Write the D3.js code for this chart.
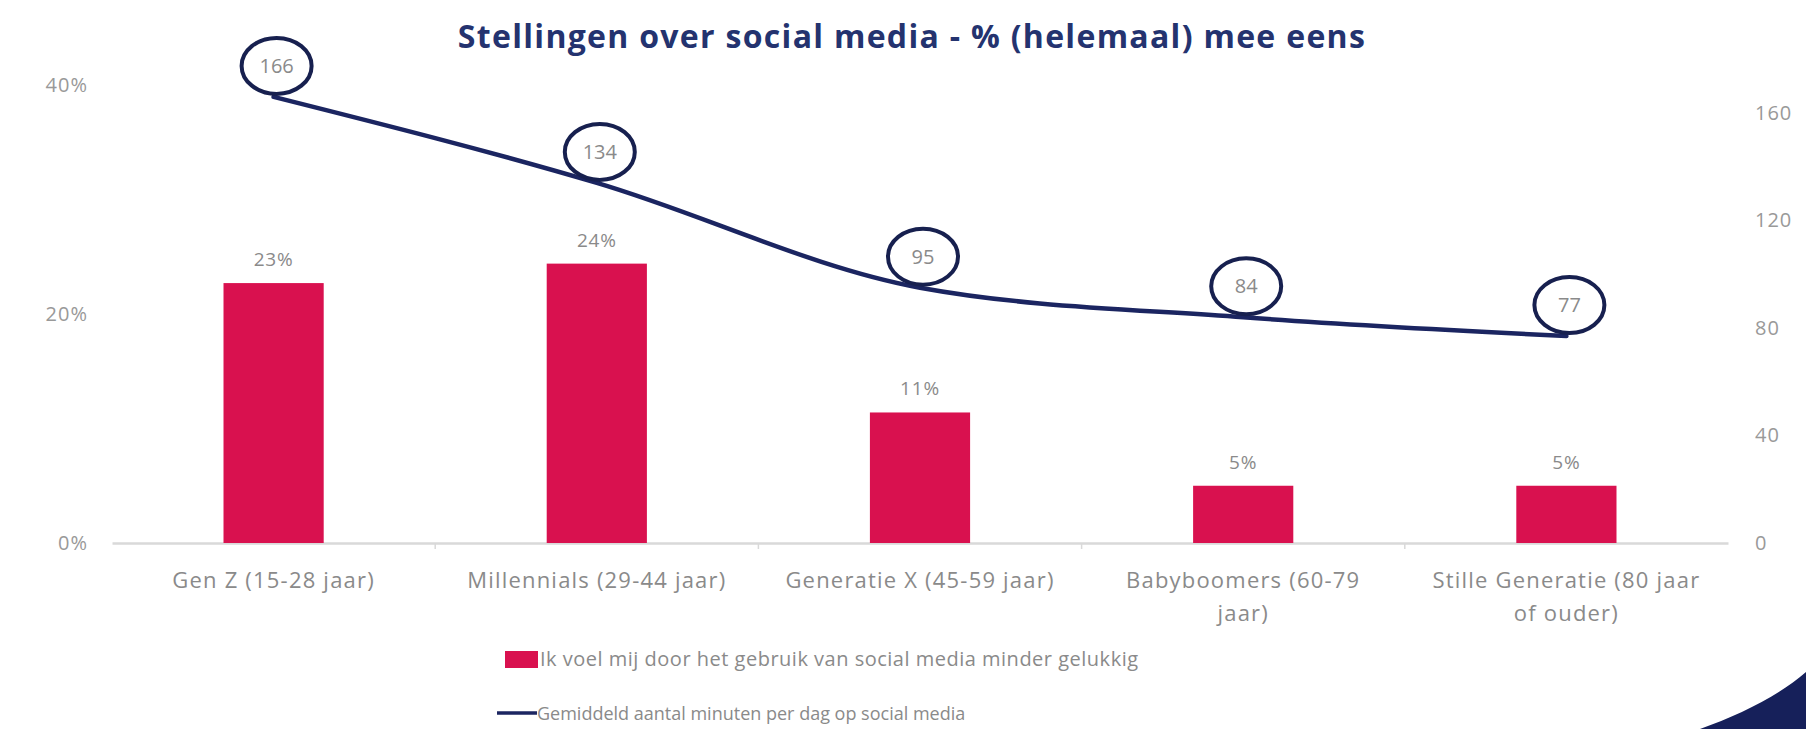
<!DOCTYPE html>
<html lang="nl">
<head>
	<meta charset="UTF-8">
	<title>Stellingen over social media</title>
	<style>
		body { margin:0; background:#fff; }
		svg { display:block; font-family:"Open Sans", sans-serif; }
	</style>
</head>
<body>
	<svg></svg>
	<script src="https://d3js.org/d3.v7.min.js"></script>
	<script>
		// data
		var categories = ["Gen Z (15-28 jaar)", "Millennials (29-44 jaar)", "Generatie X (45-59 jaar)", "Babyboomers (60-79\njaar)", "Stille Generatie (80 jaar\nof ouder)"];
		var minderGelukkig = [0.227, 0.244, 0.114, 0.05, 0.05];
		var minutenPerDag = [166, 134, 95, 84, 77];
		var leftTicks = [0, 0.2, 0.4];
		var rightTicks = [0, 40, 80, 120, 160];
		var legendLabels = ["Ik voel mij door het gebruik van social media minder gelukkig", "Gemiddeld aantal minuten per dag op social media"];

		var red = "#d9114f", navy = "#1b2561", grey = "#8a8a8a";

		var svg = d3.select("svg")
			.attr("width", 1806)
			.attr("height", 729);

		var x = d3.scaleBand()
			.domain(categories)
			.range([112, 1728])
			.paddingInner(0.69)
			.paddingOuter(0.345);
		var yL = d3.scaleLinear().domain([0, 0.4]).range([543, 85]);
		var yR = d3.scaleLinear().domain([0, 160]).range([543, 113]);

		// title
		svg.append("text")
			.attr("x", 912)
			.attr("y", 48)
			.attr("text-anchor", "middle")
			.attr("font-size", "32px")
			.attr("font-weight", "bold")
			.attr("letter-spacing", "1.3px")
			.attr("fill", "#24336f")
			.text("Stellingen over social media - % (helemaal) mee eens");

		// left axis
		var axL = svg.append("g")
			.attr("transform", "translate(96,0)")
			.call(d3.axisLeft(yL).tickValues(leftTicks).tickSize(0).tickPadding(8).tickFormat(d3.format(".0%")));
		axL.select(".domain").remove();

		// right axis
		var axR = svg.append("g")
			.attr("transform", "translate(1747,0)")
			.call(d3.axisRight(yR).tickValues(rightTicks).tickSize(0).tickPadding(8));
		axR.select(".domain").remove();

		svg.selectAll(".tick text")
			.attr("font-family", "'Open Sans', sans-serif")
			.attr("font-size", "20px")
			.attr("letter-spacing", "1px")
			.attr("fill", "#999");

		// bottom axis line
		var axB = svg.append("g")
			.attr("transform", "translate(0,543)")
			.call(d3.axisBottom(x).tickSize(0).tickFormat(""));
		axB.select(".domain").attr("stroke", "#d9d9d9").attr("stroke-width", 2.5);
		axB.selectAll(".tick").remove();

		// small separators between categories
		svg.append("g")
			.selectAll("line")
			.data(categories.slice(1))
			.enter()
			.append("line")
			.attr("x1", function(d){ return x(d) - x.step() * x.paddingInner() / 2; })
			.attr("x2", function(d){ return x(d) - x.step() * x.paddingInner() / 2; })
			.attr("y1", 543)
			.attr("y2", 549)
			.attr("stroke", "#d9d9d9")
			.attr("stroke-width", 1.5);

		// category labels
		var catText = svg.append("g")
			.selectAll("text")
			.data(categories)
			.enter()
			.append("text")
			.attr("text-anchor", "middle")
			.attr("font-size", "22px")
			.attr("letter-spacing", "1.2px")
			.attr("fill", grey);
		catText.each(function(d){
			var t = d3.select(this);
			d.split("\n").forEach(function(line, i){
				t.append("tspan")
					.attr("x", x(d) + x.bandwidth() / 2)
					.attr("y", 588 + i * 33)
					.text(line);
			});
		});

		// bars
		svg.append("g")
			.selectAll("rect")
			.data(minderGelukkig)
			.enter()
			.append("rect")
			.attr("x", function(d, i){ return x(categories[i]); })
			.attr("y", function(d){ return yL(d); })
			.attr("width", x.bandwidth())
			.attr("height", function(d){ return yL(0) - yL(d); })
			.attr("fill", red);

		svg.append("g")
			.selectAll("text")
			.data(minderGelukkig)
			.enter()
			.append("text")
			.attr("x", function(d, i){ return x(categories[i]) + x.bandwidth() / 2; })
			.attr("y", function(d){ return yL(d) - 17; })
			.attr("text-anchor", "middle")
			.attr("font-size", "19px")
			.attr("letter-spacing", "0.8px")
			.attr("fill", grey)
			.text(function(d){ return d3.format(".0%")(d); });

		// line
		var line = d3.line()
			.x(function(d, i){ return x(categories[i]) + x.bandwidth() / 2; })
			.y(function(d){ return yR(d); })
			.curve(d3.curveMonotoneX);

		svg.append("path")
			.datum(minutenPerDag)
			.attr("d", line)
			.attr("fill", "none")
			.attr("stroke", navy)
			.attr("stroke-width", 4.5)
			.attr("stroke-linecap", "round");

		// hand drawn circles with the minutes
		var marks = svg.append("g")
			.selectAll("g")
			.data(minutenPerDag)
			.enter()
			.append("g")
			.attr("transform", function(d, i){
				return "translate(" + (x(categories[i]) + x.bandwidth() / 2 + 3) + "," + (yR(d) - 31) + ")";
			});
		marks.append("ellipse")
			.attr("rx", 35)
			.attr("ry", 28)
			.attr("fill", "#fff")
			.attr("stroke", "#17204f")
			.attr("stroke-width", 4);
		marks.append("text")
			.attr("text-anchor", "middle")
			.attr("y", 7)
			.attr("font-size", "20px")
			.attr("fill", grey)
			.text(function(d){ return d; });

		// legend
		var lg = svg.append("g");
		lg.append("rect")
			.attr("x", 505)
			.attr("y", 651)
			.attr("width", 33)
			.attr("height", 17)
			.attr("fill", red);
		lg.append("text")
			.attr("x", 540)
			.attr("y", 666)
			.attr("font-size", "20px")
			.attr("letter-spacing", "0.5px")
			.attr("fill", grey)
			.text(legendLabels[0]);
		lg.append("line")
			.attr("x1", 497)
			.attr("x2", 537)
			.attr("y1", 713)
			.attr("y2", 713)
			.attr("stroke", navy)
			.attr("stroke-width", 3.5);
		lg.append("text")
			.attr("x", 537)
			.attr("y", 720)
			.attr("font-size", "18px")
			.attr("fill", grey)
			.text(legendLabels[1]);

		// slide decoration in the corner
		svg.append("path")
			.attr("d", "M1700,729 C1740,715 1780,695 1806,672 L1806,729 Z")
			.attr("fill", "#16205a");
	</script>
</body>
</html>
